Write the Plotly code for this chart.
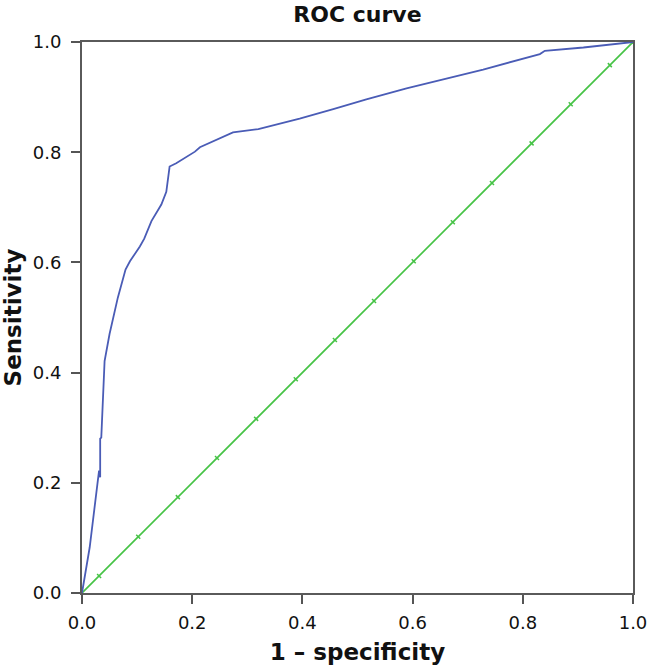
import plotly.graph_objects as go

# ROC curve (1 - specificity, sensitivity)
roc_fpr = [0.0, 0.014, 0.028, 0.031, 0.033, 0.033, 0.035, 0.040, 0.041, 0.050, 0.065,
           0.079, 0.087, 0.105, 0.113, 0.126, 0.144, 0.153, 0.159, 0.171, 0.205,
           0.214, 0.274, 0.320, 0.395, 0.456, 0.516, 0.589, 0.668, 0.728, 0.831,
           0.840, 0.910, 1.0]
roc_tpr = [0.0, 0.083, 0.198, 0.222, 0.210, 0.280, 0.282, 0.415, 0.421, 0.470, 0.536,
           0.587, 0.602, 0.629, 0.643, 0.675, 0.705, 0.728, 0.774, 0.780, 0.801,
           0.809, 0.836, 0.842, 0.861, 0.878, 0.896, 0.916, 0.935, 0.950, 0.978,
           0.984, 0.990, 1.0]

# Reference (chance) diagonal with its small marks
ref_x = [0.0, 0.031, 0.102, 0.174, 0.245, 0.316, 0.388, 0.459, 0.530, 0.602,
         0.673, 0.744, 0.816, 0.887, 0.958, 1.0]
ref_y = [0.0, 0.031, 0.102, 0.174, 0.245, 0.316, 0.388, 0.459, 0.530, 0.602,
         0.673, 0.744, 0.816, 0.887, 0.958, 1.0]

tick_vals = [0.0, 0.2, 0.4, 0.6, 0.8, 1.0]
tick_text = ["0.0", "0.2", "0.4", "0.6", "0.8", "1.0"]

FONT = "DejaVu Sans, Liberation Sans, Arial, sans-serif"

FIG_W, FIG_H = 649, 668
# target plot area: x 82..633, y 42..593
PLOT_L, PLOT_R, PLOT_T, PLOT_B = 82, 633, 42, 593

fig = go.Figure()
fig.add_trace(go.Scatter(
    x=ref_x, y=ref_y, mode="lines+markers",
    line=dict(color="#46c346", width=1.7),
    marker=dict(symbol="line-nw", size=4, line=dict(color="#46c346", width=1.5)),
    showlegend=False, hoverinfo="skip"))
fig.add_trace(go.Scatter(
    x=roc_fpr, y=roc_tpr, mode="lines",
    line=dict(color="#4a5cb6", width=1.8),
    showlegend=False))

axis_common = dict(
    range=[0, 1], tickmode="array", tickvals=tick_vals, ticktext=tick_text,
    automargin=False,
    ticks="outside", ticklen=9, tickwidth=2, tickcolor="#555555",
    showline=True, linecolor="#5a5a5a", linewidth=2, mirror=True,
    showgrid=False, zeroline=False,
    tickfont=dict(family=FONT, size=18, color="#111111"),
)

fig.update_layout(
    template="none",
    width=FIG_W, height=FIG_H,
    margin=dict(l=PLOT_L, r=FIG_W - PLOT_R, t=PLOT_T, b=FIG_H - PLOT_B),
    paper_bgcolor="white", plot_bgcolor="white",
    title=dict(text="<b>ROC curve</b>",
               x=(PLOT_L + PLOT_R) / 2 / FIG_W, xanchor="center",
               y=1 - 14 / FIG_H, yanchor="middle",
               font=dict(family=FONT, size=22, color="#111111")),
    xaxis=dict(**axis_common, ticklabelstandoff=3,
               title=dict(text="<b>1 – specificity</b>", standoff=12,
                          font=dict(family=FONT, size=23, color="#111111"))),
    yaxis=dict(**axis_common, ticklabelstandoff=6,
               title=dict(text="<b>Sensitivity</b>", standoff=11,
                          font=dict(family=FONT, size=23, color="#111111"))),
)

# remove the default page margin so the figure sits at the window's top-left corner
fig.write_html("out.html",
               config={"displayModeBar": False},
               post_script="document.body.style.margin='0';"
                           "document.documentElement.style.overflow='hidden';")
